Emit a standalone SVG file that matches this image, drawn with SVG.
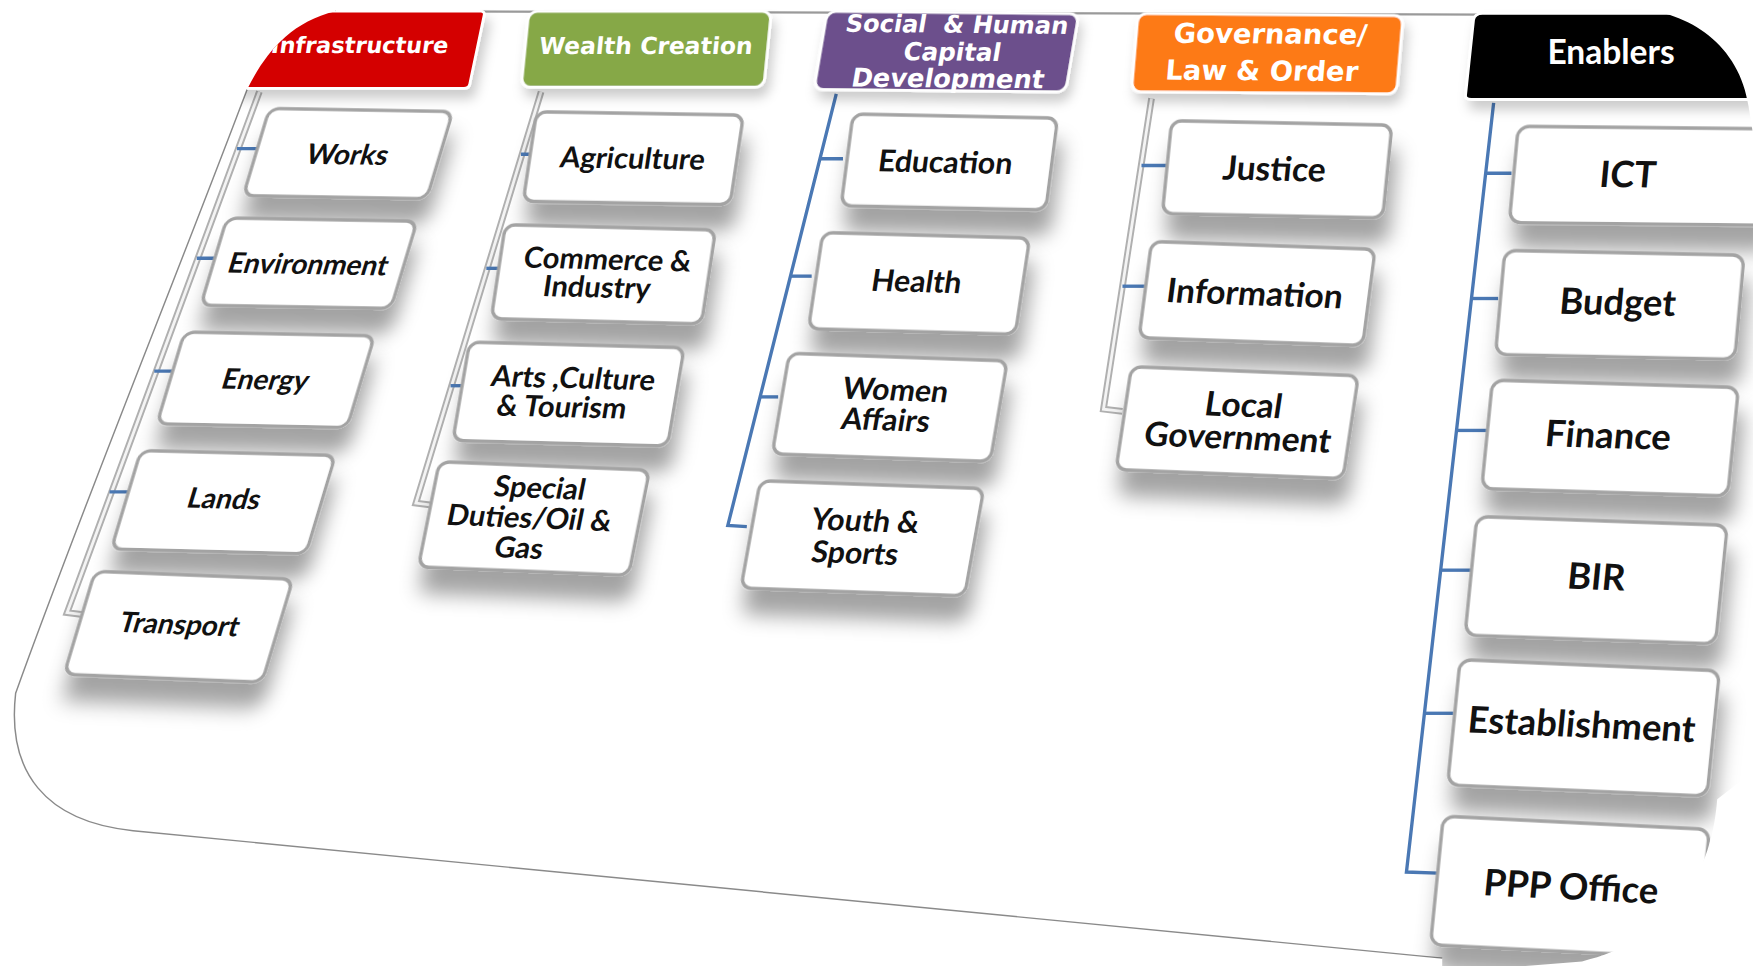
<svg xmlns="http://www.w3.org/2000/svg" width="1753" height="966" viewBox="0 0 1753 966">
<defs>
<style>
.box{fill:#fff;stroke:#a3a3a3;stroke-width:3;filter:url(#sh)}
.lbl{font-family:Lato,"Liberation Sans",sans-serif;font-weight:700;fill:#111;text-anchor:middle;dominant-baseline:central}
.hd{font-family:"DejaVu Sans",Verdana,sans-serif;font-weight:700;fill:#fff;text-anchor:middle;dominant-baseline:central;white-space:pre}
.hdbox{stroke:#fff;stroke-width:2.5;filter:url(#sh2)}
.gl{fill:none;stroke:#b0b0b0;stroke-width:6}
.gi{fill:none;stroke:#f4f4f4;stroke-width:2.5}
.bl{fill:none;stroke:#4a78b4;stroke-width:3}
.tk{stroke:#4a78b4;stroke-width:3}
.c1{font-size:25px}.c2{font-size:26px}.c3{font-size:27px}.c4{font-size:30px}.c5{font-size:32.5px}
</style>
<filter id="sh" x="-20%" y="-20%" width="150%" height="200%"><feDropShadow dx="6" dy="22" stdDeviation="9" flood-color="#000" flood-opacity="0.36"/></filter>
<filter id="sh2" x="-20%" y="-20%" width="150%" height="190%"><feDropShadow dx="4" dy="8" stdDeviation="5" flood-color="#000" flood-opacity="0.2"/></filter>
<clipPath id="cp"><path d="M300,8 L1460,8 C1510,9 1556,40 1564,95 L1568,120 L1568,690 L1536,715 C1530,790 1490,842 1415,860 L1290,870 L1290,857 Q700,800 119,743 C40,735 6,690 14,620 C75,450 155,255 221,80 C236,50 258,20 300,10 Z"/></clipPath>
</defs>
<rect width="1753" height="966" fill="#fff"/>
<g transform="scale(1.118)">
<path d="M221,80 C155,255 75,450 14,620 C6,690 40,735 119,743 Q700,800 1290,857" fill="none" stroke="#8a8a8a" stroke-width="1.3"/>
<line x1="300" y1="10" x2="1330" y2="13" stroke="#9a9a9a" stroke-width="2"/>
<g clip-path="url(#cp)">
<g id="connectors">
<polyline class="gl" points="232,82 60,548 76,550"/>
<polyline class="gi" points="232,82 60,548 76,550"/>
<line class="tk" x1="212" y1="133" x2="231" y2="133"/>
<line class="tk" x1="176" y1="231" x2="194" y2="231"/>
<line class="tk" x1="138" y1="332" x2="156" y2="332"/>
<line class="tk" x1="98" y1="440" x2="117" y2="440"/>
<polyline class="gl" points="484,82 372,450 388,452"/>
<polyline class="gi" points="484,82 372,450 388,452"/>
<line class="tk" x1="466" y1="138" x2="481" y2="138"/>
<line class="tk" x1="435" y1="240" x2="450" y2="240"/>
<line class="tk" x1="403" y1="345" x2="418" y2="345"/>
<polyline class="bl" points="748,84 651,470 668,471"/>
<line class="tk" x1="733" y1="142" x2="754" y2="142"/>
<line class="tk" x1="707" y1="247" x2="726" y2="247"/>
<line class="tk" x1="680" y1="355" x2="696" y2="355"/>
<polyline class="gl" points="1030,88 987,366 1004,368"/>
<polyline class="gi" points="1030,88 987,366 1004,368"/>
<line class="tk" x1="1021" y1="148" x2="1044" y2="148"/>
<line class="tk" x1="1004" y1="256" x2="1024" y2="256"/>
<polyline class="bl" points="1336,92 1258,780 1286,781"/>
<line class="tk" x1="1329" y1="155" x2="1352" y2="155"/>
<line class="tk" x1="1316" y1="267" x2="1340" y2="267"/>
<line class="tk" x1="1303" y1="385" x2="1330" y2="385"/>
<line class="tk" x1="1289" y1="510" x2="1316" y2="510"/>
<line class="tk" x1="1274" y1="638" x2="1300" y2="638"/>
</g>
<g id="h-infrastructure">
<path class="hdbox" fill="#d40000" d="M200,10 L430,10 Q434,10 433,14 L420,76 Q419,79 415,79 L200,79 Z"/>
<text class="hd" x="322" y="40" font-size="20" transform="translate(322,40) skewX(-8) translate(-322,-40)">Infrastructure</text>
</g>
<g id="h-wealth" transform="matrix(1,0,-0.1,1,473,10)">
<rect class="hdbox" fill="#86a846" width="217" height="68" rx="8"/>
<text class="hd" x="108" y="31" font-size="21">Wealth Creation</text>
</g>
<g id="h-social" transform="matrix(1,0.01,-0.17,1,740,10)">
<rect class="hdbox" fill="#6c4f8c" width="225" height="70" rx="8"/>
<text class="hd"><tspan x="118" y="11" font-size="21.5">Social  &amp; Human</tspan><tspan x="118" y="35" font-size="22">Capital</tspan><tspan x="118" y="59" font-size="23">Development</tspan></text>
</g>
<g id="h-governance" transform="matrix(1,0.008,-0.085,1,1018,12)">
<rect class="hdbox" fill="#fd7a12" width="237" height="70" rx="8"/>
<text class="hd" font-size="24.5"><tspan x="120" y="17">Governance/</tspan><tspan x="115" y="50">Law &amp; Order</tspan></text>
</g>
<g id="h-enablers">
<path class="hdbox" fill="#000" d="M1326,12 L1600,12 L1600,89 L1316,89 Q1310,89 1311,84 L1318,18 Q1319,12 1326,12 Z"/>
<text class="hd" x="1441" y="46" font-size="30" style="font-family:Lato,'Liberation Sans',sans-serif">Enablers</text>
</g>
<g id="works" transform="matrix(1,0.017,-0.3,1,241,97)"><rect class="box" width="164" height="78" rx="9"/><text class="lbl c1" x="82" y="39">Works</text></g>
<g id="environment" transform="matrix(1,0.017,-0.3,1,203,195)"><rect class="box" width="170" height="78" rx="9"/><text class="lbl c1" x="85" y="39">Environment</text></g>
<g id="energy" transform="matrix(1,0.02,-0.3,1,165,297)"><rect class="box" width="170" height="82" rx="9"/><text class="lbl c1" x="85" y="40">Energy</text></g>
<g id="lands" transform="matrix(1,0.025,-0.3,1,126,403)"><rect class="box" width="174" height="88" rx="9"/><text class="lbl c1" x="87" y="40">Lands</text></g>
<g id="transport" transform="matrix(1,0.04,-0.3,1,85,511)"><rect class="box" width="177" height="92" rx="9"/><text class="lbl c1" x="89" y="43">Transport</text></g>
<g id="agriculture" transform="matrix(1,0.016,-0.15,1,480,100)"><rect class="box" width="185" height="80" rx="9"/><text class="lbl c2" x="92" y="39">Agriculture</text></g>
<g id="commerce" transform="matrix(1,0.025,-0.15,1,452,201)"><rect class="box" width="188" height="84" rx="9"/><text class="lbl c2"><tspan x="96" y="27">Commerce &amp;</tspan><tspan x="90" y="52">Industry</tspan></text></g>
<g id="arts" transform="matrix(1,0.026,-0.17,1,420,306)"><rect class="box" width="192" height="88" rx="9"/><text class="lbl c2"><tspan x="98" y="28">Arts ,Culture</tspan><tspan x="92" y="54">&amp; Tourism</tspan></text></g>
<g id="special" transform="matrix(1,0.04,-0.2,1,393,413)"><rect class="box" width="188" height="94" rx="9"/><text class="lbl c2"><tspan x="94" y="18">Special</tspan><tspan x="90" y="45">Duties/Oil &amp;</tspan><tspan x="86" y="72">Gas</tspan></text></g>
<g id="education" transform="matrix(1,0.02,-0.13,1,763,102)"><rect class="box" width="183" height="82" rx="9"/><text class="lbl c3" x="88" y="40">Education</text></g>
<g id="health" transform="matrix(1,0.027,-0.15,1,736,208)"><rect class="box" width="185" height="86" rx="9"/><text class="lbl c3" x="90" y="40">Health</text></g>
<g id="women" transform="matrix(1,0.035,-0.17,1,706,316)"><rect class="box" width="195" height="90" rx="9"/><text class="lbl c3"><tspan x="100" y="28">Women</tspan><tspan x="96" y="55">Affairs</tspan></text></g>
<g id="youth" transform="matrix(1,0.035,-0.18,1,680,430)"><rect class="box" width="200" height="96" rx="9"/><text class="lbl c3"><tspan x="100" y="31">Youth &amp;</tspan><tspan x="96" y="60">Sports</tspan></text></g>
<g id="justice" transform="matrix(1,0.02,-0.1,1,1048,108)"><rect class="box" width="197" height="83" rx="9"/><text class="lbl c4" x="96" y="40">Justice</text></g>
<g id="information" transform="matrix(1,0.035,-0.13,1,1030,216)"><rect class="box" width="200" height="86" rx="9"/><text class="lbl c4" x="98" y="42">Information</text></g>
<g id="localgov" transform="matrix(1,0.04,-0.15,1,1012,328)"><rect class="box" width="203" height="92" rx="9"/><text class="lbl c4"><tspan x="105" y="29">Local</tspan><tspan x="104" y="58">Government</tspan></text></g>
<g id="ict" transform="matrix(1,0.01,-0.093,1,1358,113)"><rect class="box" width="230" height="86" rx="10"/><text class="lbl c5" x="102" y="41">ICT</text></g>
<g id="budget" transform="matrix(1,0.02,-0.09,1,1346,224)"><rect class="box" width="214" height="93" rx="10"/><text class="lbl c5" x="105" y="43">Budget</text></g>
<g id="finance" transform="matrix(1,0.03,-0.1,1,1335,340)"><rect class="box" width="220" height="97" rx="10"/><text class="lbl c5" x="108" y="45">Finance</text></g>
<g id="bir" transform="matrix(1,0.035,-0.1,1,1321,462)"><rect class="box" width="224" height="106" rx="10"/><text class="lbl c5" x="112" y="49">BIR</text></g>
<g id="establishment" transform="matrix(1,0.043,-0.1,1,1306,590)"><rect class="box" width="232" height="112" rx="10"/><text class="lbl c5" x="114" y="52">Establishment</text></g>
<g id="ppp" transform="matrix(1,0.05,-0.1,1,1291,730)"><rect class="box" width="238" height="115" rx="10"/><text class="lbl c5" x="120" y="56">PPP Office</text></g>
</g>
</g>
</svg>
